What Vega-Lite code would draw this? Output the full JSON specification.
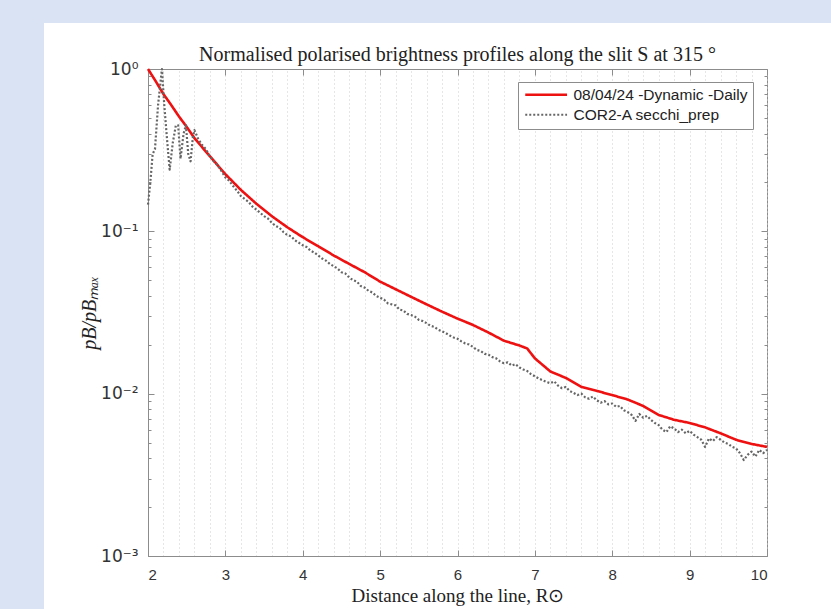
{
  "$schema": "https://vega.github.io/schema/vega-lite/v6.json",
  "width": 619,
  "height": 487,
  "autosize": {"type": "none"},
  "padding": {"left": 148, "top": 69, "right": 64, "bottom": 53},
  "background": "white",
  "config": {"view": {"stroke": "#8c8c8c", "strokeWidth": 1}},
  "title": {"text": "Normalised polarised brightness profiles along the slit S at 315 °", "font": "Liberation Serif", "fontSize": 20, "fontWeight": "normal", "color": "#222222", "offset": 9, "dy": 74},
  "datasets": {
    "profiles": [
      {"x": 2.0, "v": 1.0, "series": "08/04/24 -Dynamic -Daily"},
      {"x": 2.1, "v": 0.84, "series": "08/04/24 -Dynamic -Daily"},
      {"x": 2.2, "v": 0.70, "series": "08/04/24 -Dynamic -Daily"},
      {"x": 2.3, "v": 0.60, "series": "08/04/24 -Dynamic -Daily"},
      {"x": 2.4, "v": 0.51, "series": "08/04/24 -Dynamic -Daily"},
      {"x": 2.5, "v": 0.44, "series": "08/04/24 -Dynamic -Daily"},
      {"x": 2.6, "v": 0.375, "series": "08/04/24 -Dynamic -Daily"},
      {"x": 2.8, "v": 0.29, "series": "08/04/24 -Dynamic -Daily"},
      {"x": 3.0, "v": 0.225, "series": "08/04/24 -Dynamic -Daily"},
      {"x": 3.2, "v": 0.18, "series": "08/04/24 -Dynamic -Daily"},
      {"x": 3.4, "v": 0.148, "series": "08/04/24 -Dynamic -Daily"},
      {"x": 3.6, "v": 0.124, "series": "08/04/24 -Dynamic -Daily"},
      {"x": 3.8, "v": 0.106, "series": "08/04/24 -Dynamic -Daily"},
      {"x": 4.0, "v": 0.092, "series": "08/04/24 -Dynamic -Daily"},
      {"x": 4.2, "v": 0.081, "series": "08/04/24 -Dynamic -Daily"},
      {"x": 4.4, "v": 0.071, "series": "08/04/24 -Dynamic -Daily"},
      {"x": 4.6, "v": 0.063, "series": "08/04/24 -Dynamic -Daily"},
      {"x": 4.8, "v": 0.056, "series": "08/04/24 -Dynamic -Daily"},
      {"x": 5.0, "v": 0.049, "series": "08/04/24 -Dynamic -Daily"},
      {"x": 5.2, "v": 0.044, "series": "08/04/24 -Dynamic -Daily"},
      {"x": 5.4, "v": 0.0395, "series": "08/04/24 -Dynamic -Daily"},
      {"x": 5.6, "v": 0.0355, "series": "08/04/24 -Dynamic -Daily"},
      {"x": 5.8, "v": 0.032, "series": "08/04/24 -Dynamic -Daily"},
      {"x": 6.0, "v": 0.029, "series": "08/04/24 -Dynamic -Daily"},
      {"x": 6.2, "v": 0.0265, "series": "08/04/24 -Dynamic -Daily"},
      {"x": 6.4, "v": 0.0238, "series": "08/04/24 -Dynamic -Daily"},
      {"x": 6.6, "v": 0.0212, "series": "08/04/24 -Dynamic -Daily"},
      {"x": 6.8, "v": 0.0198, "series": "08/04/24 -Dynamic -Daily"},
      {"x": 6.9, "v": 0.019, "series": "08/04/24 -Dynamic -Daily"},
      {"x": 7.0, "v": 0.0165, "series": "08/04/24 -Dynamic -Daily"},
      {"x": 7.2, "v": 0.0137, "series": "08/04/24 -Dynamic -Daily"},
      {"x": 7.4, "v": 0.0125, "series": "08/04/24 -Dynamic -Daily"},
      {"x": 7.6, "v": 0.011, "series": "08/04/24 -Dynamic -Daily"},
      {"x": 7.8, "v": 0.0104, "series": "08/04/24 -Dynamic -Daily"},
      {"x": 8.0, "v": 0.0098, "series": "08/04/24 -Dynamic -Daily"},
      {"x": 8.2, "v": 0.0092, "series": "08/04/24 -Dynamic -Daily"},
      {"x": 8.4, "v": 0.0084, "series": "08/04/24 -Dynamic -Daily"},
      {"x": 8.6, "v": 0.0074, "series": "08/04/24 -Dynamic -Daily"},
      {"x": 8.8, "v": 0.0069, "series": "08/04/24 -Dynamic -Daily"},
      {"x": 9.0, "v": 0.0066, "series": "08/04/24 -Dynamic -Daily"},
      {"x": 9.2, "v": 0.0062, "series": "08/04/24 -Dynamic -Daily"},
      {"x": 9.4, "v": 0.0057, "series": "08/04/24 -Dynamic -Daily"},
      {"x": 9.6, "v": 0.0052, "series": "08/04/24 -Dynamic -Daily"},
      {"x": 9.8, "v": 0.0049, "series": "08/04/24 -Dynamic -Daily"},
      {"x": 10.0, "v": 0.0047, "series": "08/04/24 -Dynamic -Daily"},
      {"x": 2.0, "v": 0.146, "series": "COR2-A secchi_prep"},
      {"x": 2.03, "v": 0.2, "series": "COR2-A secchi_prep"},
      {"x": 2.06, "v": 0.3, "series": "COR2-A secchi_prep"},
      {"x": 2.09, "v": 0.32, "series": "COR2-A secchi_prep"},
      {"x": 2.13, "v": 0.6, "series": "COR2-A secchi_prep"},
      {"x": 2.18, "v": 1.0, "series": "COR2-A secchi_prep"},
      {"x": 2.21, "v": 0.6, "series": "COR2-A secchi_prep"},
      {"x": 2.25, "v": 0.35, "series": "COR2-A secchi_prep"},
      {"x": 2.28, "v": 0.24, "series": "COR2-A secchi_prep"},
      {"x": 2.32, "v": 0.35, "series": "COR2-A secchi_prep"},
      {"x": 2.36, "v": 0.45, "series": "COR2-A secchi_prep"},
      {"x": 2.39, "v": 0.45, "series": "COR2-A secchi_prep"},
      {"x": 2.42, "v": 0.28, "series": "COR2-A secchi_prep"},
      {"x": 2.46, "v": 0.4, "series": "COR2-A secchi_prep"},
      {"x": 2.49, "v": 0.45, "series": "COR2-A secchi_prep"},
      {"x": 2.52, "v": 0.3, "series": "COR2-A secchi_prep"},
      {"x": 2.55, "v": 0.27, "series": "COR2-A secchi_prep"},
      {"x": 2.58, "v": 0.38, "series": "COR2-A secchi_prep"},
      {"x": 2.6, "v": 0.42, "series": "COR2-A secchi_prep"},
      {"x": 2.65, "v": 0.37, "series": "COR2-A secchi_prep"},
      {"x": 2.7, "v": 0.34, "series": "COR2-A secchi_prep"},
      {"x": 2.75, "v": 0.32, "series": "COR2-A secchi_prep"},
      {"x": 2.8, "v": 0.29, "series": "COR2-A secchi_prep"},
      {"x": 2.85, "v": 0.27, "series": "COR2-A secchi_prep"},
      {"x": 2.9, "v": 0.255, "series": "COR2-A secchi_prep"},
      {"x": 2.95, "v": 0.235, "series": "COR2-A secchi_prep"},
      {"x": 3.0, "v": 0.215, "series": "COR2-A secchi_prep"},
      {"x": 3.05, "v": 0.205, "series": "COR2-A secchi_prep"},
      {"x": 3.1, "v": 0.19, "series": "COR2-A secchi_prep"},
      {"x": 3.15, "v": 0.178, "series": "COR2-A secchi_prep"},
      {"x": 3.2, "v": 0.165, "series": "COR2-A secchi_prep"},
      {"x": 3.25, "v": 0.158, "series": "COR2-A secchi_prep"},
      {"x": 3.3, "v": 0.152, "series": "COR2-A secchi_prep"},
      {"x": 3.35, "v": 0.142, "series": "COR2-A secchi_prep"},
      {"x": 3.4, "v": 0.136, "series": "COR2-A secchi_prep"},
      {"x": 3.45, "v": 0.13, "series": "COR2-A secchi_prep"},
      {"x": 3.5, "v": 0.124, "series": "COR2-A secchi_prep"},
      {"x": 3.55, "v": 0.12, "series": "COR2-A secchi_prep"},
      {"x": 3.6, "v": 0.113, "series": "COR2-A secchi_prep"},
      {"x": 3.65, "v": 0.108, "series": "COR2-A secchi_prep"},
      {"x": 3.7, "v": 0.105, "series": "COR2-A secchi_prep"},
      {"x": 3.75, "v": 0.099, "series": "COR2-A secchi_prep"},
      {"x": 3.8, "v": 0.095, "series": "COR2-A secchi_prep"},
      {"x": 3.85, "v": 0.093, "series": "COR2-A secchi_prep"},
      {"x": 3.9, "v": 0.088, "series": "COR2-A secchi_prep"},
      {"x": 3.95, "v": 0.085, "series": "COR2-A secchi_prep"},
      {"x": 4.0, "v": 0.082, "series": "COR2-A secchi_prep"},
      {"x": 4.05, "v": 0.08, "series": "COR2-A secchi_prep"},
      {"x": 4.1, "v": 0.076, "series": "COR2-A secchi_prep"},
      {"x": 4.15, "v": 0.074, "series": "COR2-A secchi_prep"},
      {"x": 4.2, "v": 0.071, "series": "COR2-A secchi_prep"},
      {"x": 4.25, "v": 0.068, "series": "COR2-A secchi_prep"},
      {"x": 4.3, "v": 0.066, "series": "COR2-A secchi_prep"},
      {"x": 4.35, "v": 0.063, "series": "COR2-A secchi_prep"},
      {"x": 4.4, "v": 0.061, "series": "COR2-A secchi_prep"},
      {"x": 4.45, "v": 0.059, "series": "COR2-A secchi_prep"},
      {"x": 4.5, "v": 0.056, "series": "COR2-A secchi_prep"},
      {"x": 4.55, "v": 0.055, "series": "COR2-A secchi_prep"},
      {"x": 4.6, "v": 0.052, "series": "COR2-A secchi_prep"},
      {"x": 4.65, "v": 0.05, "series": "COR2-A secchi_prep"},
      {"x": 4.7, "v": 0.049, "series": "COR2-A secchi_prep"},
      {"x": 4.75, "v": 0.046, "series": "COR2-A secchi_prep"},
      {"x": 4.8, "v": 0.045, "series": "COR2-A secchi_prep"},
      {"x": 4.85, "v": 0.043, "series": "COR2-A secchi_prep"},
      {"x": 4.9, "v": 0.042, "series": "COR2-A secchi_prep"},
      {"x": 4.95, "v": 0.04, "series": "COR2-A secchi_prep"},
      {"x": 5.0, "v": 0.039, "series": "COR2-A secchi_prep"},
      {"x": 5.05, "v": 0.038, "series": "COR2-A secchi_prep"},
      {"x": 5.1, "v": 0.036, "series": "COR2-A secchi_prep"},
      {"x": 5.15, "v": 0.0355, "series": "COR2-A secchi_prep"},
      {"x": 5.2, "v": 0.035, "series": "COR2-A secchi_prep"},
      {"x": 5.25, "v": 0.033, "series": "COR2-A secchi_prep"},
      {"x": 5.3, "v": 0.0325, "series": "COR2-A secchi_prep"},
      {"x": 5.35, "v": 0.031, "series": "COR2-A secchi_prep"},
      {"x": 5.4, "v": 0.0305, "series": "COR2-A secchi_prep"},
      {"x": 5.45, "v": 0.0298, "series": "COR2-A secchi_prep"},
      {"x": 5.5, "v": 0.0285, "series": "COR2-A secchi_prep"},
      {"x": 5.55, "v": 0.028, "series": "COR2-A secchi_prep"},
      {"x": 5.6, "v": 0.0272, "series": "COR2-A secchi_prep"},
      {"x": 5.65, "v": 0.0262, "series": "COR2-A secchi_prep"},
      {"x": 5.7, "v": 0.0258, "series": "COR2-A secchi_prep"},
      {"x": 5.75, "v": 0.0248, "series": "COR2-A secchi_prep"},
      {"x": 5.8, "v": 0.0242, "series": "COR2-A secchi_prep"},
      {"x": 5.85, "v": 0.0236, "series": "COR2-A secchi_prep"},
      {"x": 5.9, "v": 0.0228, "series": "COR2-A secchi_prep"},
      {"x": 5.95, "v": 0.0222, "series": "COR2-A secchi_prep"},
      {"x": 6.0, "v": 0.0218, "series": "COR2-A secchi_prep"},
      {"x": 6.05, "v": 0.021, "series": "COR2-A secchi_prep"},
      {"x": 6.1, "v": 0.0204, "series": "COR2-A secchi_prep"},
      {"x": 6.15, "v": 0.0201, "series": "COR2-A secchi_prep"},
      {"x": 6.2, "v": 0.0194, "series": "COR2-A secchi_prep"},
      {"x": 6.25, "v": 0.0186, "series": "COR2-A secchi_prep"},
      {"x": 6.3, "v": 0.0183, "series": "COR2-A secchi_prep"},
      {"x": 6.35, "v": 0.0176, "series": "COR2-A secchi_prep"},
      {"x": 6.4, "v": 0.0174, "series": "COR2-A secchi_prep"},
      {"x": 6.45, "v": 0.0168, "series": "COR2-A secchi_prep"},
      {"x": 6.5, "v": 0.0165, "series": "COR2-A secchi_prep"},
      {"x": 6.55, "v": 0.0158, "series": "COR2-A secchi_prep"},
      {"x": 6.6, "v": 0.0154, "series": "COR2-A secchi_prep"},
      {"x": 6.65, "v": 0.0156, "series": "COR2-A secchi_prep"},
      {"x": 6.7, "v": 0.0149, "series": "COR2-A secchi_prep"},
      {"x": 6.75, "v": 0.0152, "series": "COR2-A secchi_prep"},
      {"x": 6.8, "v": 0.0145, "series": "COR2-A secchi_prep"},
      {"x": 6.85, "v": 0.0141, "series": "COR2-A secchi_prep"},
      {"x": 6.9, "v": 0.0138, "series": "COR2-A secchi_prep"},
      {"x": 6.95, "v": 0.0132, "series": "COR2-A secchi_prep"},
      {"x": 7.0, "v": 0.0128, "series": "COR2-A secchi_prep"},
      {"x": 7.05, "v": 0.0124, "series": "COR2-A secchi_prep"},
      {"x": 7.1, "v": 0.0121, "series": "COR2-A secchi_prep"},
      {"x": 7.15, "v": 0.0118, "series": "COR2-A secchi_prep"},
      {"x": 7.2, "v": 0.0116, "series": "COR2-A secchi_prep"},
      {"x": 7.25, "v": 0.0119, "series": "COR2-A secchi_prep"},
      {"x": 7.3, "v": 0.0112, "series": "COR2-A secchi_prep"},
      {"x": 7.35, "v": 0.0108, "series": "COR2-A secchi_prep"},
      {"x": 7.4, "v": 0.011, "series": "COR2-A secchi_prep"},
      {"x": 7.45, "v": 0.0104, "series": "COR2-A secchi_prep"},
      {"x": 7.5, "v": 0.0101, "series": "COR2-A secchi_prep"},
      {"x": 7.55, "v": 0.0098, "series": "COR2-A secchi_prep"},
      {"x": 7.6, "v": 0.01, "series": "COR2-A secchi_prep"},
      {"x": 7.65, "v": 0.0095, "series": "COR2-A secchi_prep"},
      {"x": 7.7, "v": 0.0093, "series": "COR2-A secchi_prep"},
      {"x": 7.75, "v": 0.0096, "series": "COR2-A secchi_prep"},
      {"x": 7.8, "v": 0.0091, "series": "COR2-A secchi_prep"},
      {"x": 7.85, "v": 0.0088, "series": "COR2-A secchi_prep"},
      {"x": 7.9, "v": 0.009, "series": "COR2-A secchi_prep"},
      {"x": 7.95, "v": 0.0086, "series": "COR2-A secchi_prep"},
      {"x": 8.0, "v": 0.0087, "series": "COR2-A secchi_prep"},
      {"x": 8.05, "v": 0.0083, "series": "COR2-A secchi_prep"},
      {"x": 8.1, "v": 0.0084, "series": "COR2-A secchi_prep"},
      {"x": 8.15, "v": 0.0079, "series": "COR2-A secchi_prep"},
      {"x": 8.2, "v": 0.0077, "series": "COR2-A secchi_prep"},
      {"x": 8.25, "v": 0.0074, "series": "COR2-A secchi_prep"},
      {"x": 8.3, "v": 0.0068, "series": "COR2-A secchi_prep"},
      {"x": 8.35, "v": 0.0075, "series": "COR2-A secchi_prep"},
      {"x": 8.4, "v": 0.0071, "series": "COR2-A secchi_prep"},
      {"x": 8.45, "v": 0.0073, "series": "COR2-A secchi_prep"},
      {"x": 8.5, "v": 0.0069, "series": "COR2-A secchi_prep"},
      {"x": 8.55, "v": 0.0066, "series": "COR2-A secchi_prep"},
      {"x": 8.6, "v": 0.0064, "series": "COR2-A secchi_prep"},
      {"x": 8.65, "v": 0.006, "series": "COR2-A secchi_prep"},
      {"x": 8.7, "v": 0.0058, "series": "COR2-A secchi_prep"},
      {"x": 8.75, "v": 0.0063, "series": "COR2-A secchi_prep"},
      {"x": 8.8, "v": 0.0061, "series": "COR2-A secchi_prep"},
      {"x": 8.85, "v": 0.0058, "series": "COR2-A secchi_prep"},
      {"x": 8.9, "v": 0.006, "series": "COR2-A secchi_prep"},
      {"x": 8.95, "v": 0.0057, "series": "COR2-A secchi_prep"},
      {"x": 9.0, "v": 0.0059, "series": "COR2-A secchi_prep"},
      {"x": 9.05, "v": 0.0056, "series": "COR2-A secchi_prep"},
      {"x": 9.1, "v": 0.0054, "series": "COR2-A secchi_prep"},
      {"x": 9.15, "v": 0.0052, "series": "COR2-A secchi_prep"},
      {"x": 9.2, "v": 0.0047, "series": "COR2-A secchi_prep"},
      {"x": 9.25, "v": 0.0053, "series": "COR2-A secchi_prep"},
      {"x": 9.3, "v": 0.0051, "series": "COR2-A secchi_prep"},
      {"x": 9.35, "v": 0.0054, "series": "COR2-A secchi_prep"},
      {"x": 9.4, "v": 0.0052, "series": "COR2-A secchi_prep"},
      {"x": 9.45, "v": 0.005, "series": "COR2-A secchi_prep"},
      {"x": 9.5, "v": 0.0049, "series": "COR2-A secchi_prep"},
      {"x": 9.55, "v": 0.0047, "series": "COR2-A secchi_prep"},
      {"x": 9.6, "v": 0.0046, "series": "COR2-A secchi_prep"},
      {"x": 9.65, "v": 0.0043, "series": "COR2-A secchi_prep"},
      {"x": 9.7, "v": 0.0039, "series": "COR2-A secchi_prep"},
      {"x": 9.75, "v": 0.0042, "series": "COR2-A secchi_prep"},
      {"x": 9.8, "v": 0.0044, "series": "COR2-A secchi_prep"},
      {"x": 9.85, "v": 0.0041, "series": "COR2-A secchi_prep"},
      {"x": 9.9, "v": 0.0045, "series": "COR2-A secchi_prep"},
      {"x": 9.95, "v": 0.0043, "series": "COR2-A secchi_prep"},
      {"x": 10.0, "v": 0.0045, "series": "COR2-A secchi_prep"}
    ]
  },
  "layer": [
    {
      "data": {"values": [{}]},
      "mark": {"type": "rect", "color": "#d9e3f4"},
      "encoding": {
        "x": {"datum": 0.0872, "type": "quantitative", "scale": {"domain": [2, 10]}, "axis": null},
        "x2": {"datum": 0.656},
        "y": {"datum": 2.66, "type": "quantitative", "scale": {"type": "log", "domain": [0.001, 1]}, "axis": null},
        "y2": {"datum": 0.000472}
      }
    },
    {
      "data": {"values": [{}]},
      "mark": {"type": "rect", "color": "#d9e3f4"},
      "encoding": {
        "x": {"datum": 0.0872, "type": "quantitative", "scale": {"domain": [2, 10]}, "axis": null},
        "x2": {"datum": 10.827},
        "y": {"datum": 2.66, "type": "quantitative", "scale": {"type": "log", "domain": [0.001, 1]}, "axis": null},
        "y2": {"datum": 1.9205}
      }
    },
    {
      "data": {"name": "profiles"},
      "mark": {"type": "point", "opacity": 0},
      "encoding": {
        "x": {
          "field": "x", "type": "quantitative", "scale": {"domain": [2, 10]},
          "axis": {
            "orient": "top", "title": null, "labels": false, "domain": false,
            "values": [2, 2.2, 2.4, 2.6, 2.8, 3, 3.2, 3.4, 3.6, 3.8, 4, 4.2, 4.4, 4.6, 4.8, 5, 5.2, 5.4, 5.6, 5.8, 6, 6.2, 6.4, 6.6, 6.8, 7, 7.2, 7.4, 7.6, 7.8, 8, 8.2, 8.4, 8.6, 8.8, 9, 9.2, 9.4, 9.6, 9.8, 10],
            "grid": true, "gridDash": [1, 3], "gridColor": "#cccccc", "gridWidth": 1,
            "tickColor": "#8c8c8c",
            "tickSize": {"condition": {"test": "abs(datum.value - round(datum.value)) < 0.01", "value": -6}, "value": 0}
          }
        },
        "y": {
          "field": "v", "type": "quantitative", "scale": {"type": "log", "domain": [0.001, 1]},
          "axis": {
            "orient": "right", "title": null, "labels": false, "domain": false, "grid": false,
            "values": [0.001, 0.002, 0.003, 0.004, 0.005, 0.006, 0.007, 0.008, 0.009, 0.01, 0.02, 0.03, 0.04, 0.05, 0.06, 0.07, 0.08, 0.09, 0.1, 0.2, 0.3, 0.4, 0.5, 0.6, 0.7, 0.8, 0.9, 1],
            "tickColor": "#8c8c8c",
            "tickSize": {"condition": {"test": "abs(log(datum.value)/LN10 - round(log(datum.value)/LN10)) < 0.000001", "value": -6}, "value": -3}
          }
        }
      }
    },
    {
      "data": {"name": "profiles"},
      "mark": {"type": "line", "strokeCap": "butt", "strokeJoin": "round"},
      "encoding": {
        "x": {
          "field": "x", "type": "quantitative", "scale": {"domain": [2, 10]},
          "axis": {
            "orient": "bottom", "title": "Distance along the line, R⊙",
            "titleFont": "Liberation Serif", "titleFontSize": 19, "titleFontWeight": "normal", "titleColor": "#222222", "titlePadding": 4,
            "values": [2, 3, 4, 5, 6, 7, 8, 9, 10], "format": "d", "grid": false,
            "labelFont": "Liberation Sans", "labelFontSize": 15, "labelColor": "#333333", "labelPadding": 17,
            "domainColor": "#8c8c8c", "tickColor": "#8c8c8c", "tickSize": -6
          }
        },
        "y": {
          "field": "v", "type": "quantitative", "scale": {"type": "log", "domain": [0.001, 1]},
          "axis": {
            "orient": "left", "title": "pB/pBₘₐₓ",
            "titleFont": "Liberation Serif", "titleFontSize": 20, "titleFontStyle": "italic", "titleFontWeight": "normal", "titleColor": "#222222", "titlePadding": 1,
            "values": [0.001, 0.002, 0.003, 0.004, 0.005, 0.006, 0.007, 0.008, 0.009, 0.01, 0.02, 0.03, 0.04, 0.05, 0.06, 0.07, 0.08, 0.09, 0.1, 0.2, 0.3, 0.4, 0.5, 0.6, 0.7, 0.8, 0.9, 1],
            "labelExpr": "datum.value > 0.99 ? '10⁰' : abs(datum.value - 0.1) < 0.000001 ? '10⁻¹' : abs(datum.value - 0.01) < 0.0000001 ? '10⁻²' : abs(datum.value - 0.001) < 0.00000001 ? '10⁻³' : ''",
            "labelFont": "DejaVu Sans", "labelFontSize": 17, "labelColor": "#333333", "labelPadding": 16, "grid": false,
            "domainColor": "#8c8c8c", "tickColor": "#8c8c8c",
            "tickSize": {"condition": {"test": "abs(log(datum.value)/LN10 - round(log(datum.value)/LN10)) < 0.000001", "value": -6}, "value": -3}
          }
        },
        "color": {
          "field": "series", "type": "nominal",
          "scale": {"domain": ["08/04/24 -Dynamic -Daily", "COR2-A secchi_prep"], "range": ["#ee1111", "#666666"]},
          "legend": {
            "title": null, "orient": "none", "legendX": 370, "legendY": 13,
            "symbolType": "M-1,0H6.6", "symbolSize": 121, "symbolStrokeWidth": 2.5,
            "labelFont": "Liberation Sans", "labelFontSize": 15.5, "labelColor": "#222222", "labelOffset": 35, "labelLimit": 400,
            "rowPadding": 3, "padding": 5, "strokeColor": "#8c8c8c", "fillColor": "white"
          }
        },
        "strokeDash": {
          "field": "series", "type": "nominal",
          "scale": {"domain": ["08/04/24 -Dynamic -Daily", "COR2-A secchi_prep"], "range": [[1, 0], [2, 2]]}
        },
        "strokeWidth": {
          "field": "series", "type": "nominal",
          "scale": {"domain": ["08/04/24 -Dynamic -Daily", "COR2-A secchi_prep"], "range": [2.6, 2.2]},
          "legend": null
        }
      }
    }
  ],
  "resolve": {"axis": {"x": "independent", "y": "independent"}}
}
